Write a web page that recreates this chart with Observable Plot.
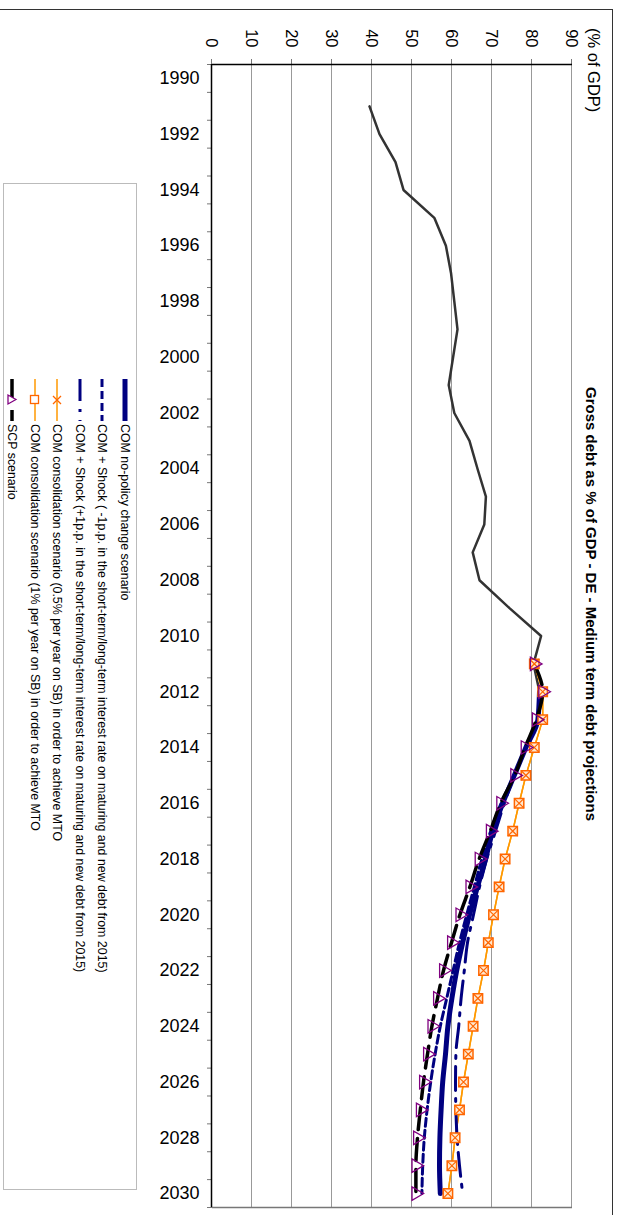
<!DOCTYPE html>
<html>
<head>
<meta charset="utf-8">
<script src="https://cdn.jsdelivr.net/npm/d3@7"></script>
<script src="https://cdn.jsdelivr.net/npm/@observablehq/plot@0.6"></script>
<style>
  html, body { margin: 0; padding: 0; background: #fff; overflow: hidden; width: 621px; height: 1215px; }
  #land { position: absolute; left: 0; top: 0; width: 1215px; height: 621px; transform-origin: 0 0; transform: translate(621px, 0) rotate(90deg); font-family: "Liberation Sans", Arial, sans-serif; }
  #outer { position: absolute; left: 9px; top: 8px; width: 1300px; height: 700px; border-left: 1.5px solid #333; border-top: 1.5px solid #333; }
  #title { position: absolute; left: 0; width: 1208px; top: 21px; font-weight: bold; font-size: 15px; color: #000; }
  #title span { position: absolute; left: 604px; transform: translateX(-50%); white-space: nowrap; }
  #unit { position: absolute; left: 28px; top: 18px; font-size: 16.5px; white-space: nowrap; }
  #chart { position: absolute; left: 0; top: 0; }
  #legend { position: absolute; left: 183px; top: 484px; width: 1007px; height: 134px; border: 1px solid #bbb; box-sizing: border-box; }
  .item { position: absolute; left: 195px; height: 20px; display: flex; align-items: center; font-size: 12.4px; white-space: nowrap; }
  .item svg { margin-right: 3px; }
</style>
</head>
<body>
<div id="land">
  <div id="outer"></div>
  <div id="chart"></div>
  <div id="title"><span>Gross debt as % of GDP - DE - Medium term debt projections</span></div>
  <div id="unit">(% of GDP)</div>
  <div id="legend"></div>
</div>
<script>
// ---- data ----
const histYears = [1991,1992,1993,1994,1995,1996,1997,1998,1999,2000,2001,2002,2003,2004,2005,2006,2007,2008,2009,2010,2011,2012];
const histValues = [39.5,42.0,46.0,48.0,55.7,58.6,59.9,60.7,61.5,60.4,59.3,60.7,64.5,66.5,68.6,68.2,65.3,67.0,74.5,82.4,80.5,82.0];

const comYears = [2012,2013,2014,2015,2016,2017,2018,2019,2020,2021,2022,2023,2024,2025,2026,2027,2028,2029,2030];
const noPolicy  = [82.0,81.6,78.6,75.7,72.8,70.3,68.5,66.5,64.5,62.8,61.3,60.1,59.1,58.5,57.8,57.4,57.1,57.0,57.2];
const shockDown = [82.0,81.6,78.6,75.7,72.4,69.8,67.6,65.7,63.8,62.0,60.4,58.8,57.2,55.9,54.8,53.9,53.2,52.8,52.6];
const shockUp   = [82.0,81.6,78.6,75.7,73.2,71.0,68.8,67.0,65.5,64.0,63.2,62.4,61.8,61.1,61.0,61.1,61.4,62.0,62.8];

const projYears = [2011,2012,2013,2014,2015,2016,2017,2018,2019,2020,2021,2022,2023,2024,2025,2026,2027,2028,2029,2030];
const cons05 = [80.7,82.8,82.8,80.7,78.6,76.9,75.3,73.4,71.9,70.5,69.2,68.0,66.6,65.4,64.2,63.0,62.0,60.9,60.1,59.1];
const cons1  = [80.7,82.8,82.8,80.7,78.6,76.9,75.3,73.4,71.9,70.5,69.2,68.0,66.6,65.4,64.2,63.0,62.0,60.9,60.1,59.1];
const scp    = [80.7,82.8,81.2,78.4,75.8,72.3,69.7,66.9,64.6,62.1,60.0,58.0,56.5,55.1,54.0,53.0,52.2,51.5,51.1,51.1];

const yearLabels = [1990,1992,1994,1996,1998,2000,2002,2004,2006,2008,2010,2012,2014,2016,2018,2020,2022,2024,2026,2028,2030];
const valueTicks = [0,10,20,30,40,50,60,70,80,90];

const legendLabels = [
  "COM no-policy change scenario",
  "COM + Shock ( -1p.p. in the short-term/long-term interest rate on maturing and new debt from 2015)",
  "COM + Shock (+1p.p. in the short-term/long-term interest rate on maturing and new debt from 2015)",
  "COM consolidation scenario (0.5% per year on SB) in order to achieve MTO",
  "COM consolidation scenario (1% per year on SB) in order to achieve MTO",
  "SCP scenario"
];

const zip = (xs, ys) => xs.map((x, i) => ({year: x, value: ys[i]}));
const hist = zip(histYears, histValues);
const dNo = zip(comYears, noPolicy);
const dDown = zip(comYears, shockDown);
const dUp = zip(comYears, shockUp);
const dC05 = zip(projYears, cons05);
const dC1 = zip(projYears, cons1);
const dScp = zip(projYears, scp);

const navy = "#000080", orangeLine = "#FF9900", orangeMark = "#FF6600", purple = "#800080";
const boundaries = d3.range(1989.5, 2031, 1);

const chart = Plot.plot({
  width: 1215,
  height: 621,
  marginLeft: 64,
  marginRight: 8,
  marginTop: 49,
  marginBottom: 212,
  style: {fontFamily: "Liberation Sans, Arial, sans-serif", background: "transparent", color: "#000"},
  x: {domain: [1989.5, 2030.5], label: null},
  y: {domain: [0, 90], label: null},
  marks: [
    Plot.gridY(valueTicks.filter(d => d > 0), {stroke: "#999", strokeOpacity: 1, strokeWidth: 1}),
    Plot.ruleX([2030.5], {stroke: "#777", strokeWidth: 1.5}),
    Plot.axisY(valueTicks, {label: null, tickSize: 5, tickPadding: 12, fontSize: 16.5, stroke: "#777", tickFormat: d => String(d)}),
    Plot.axisX(boundaries, {label: null, tickSize: 5, stroke: "#777", tickFormat: () => ""}),
    Plot.axisX(yearLabels, {label: null, tickSize: 0, tickPadding: 12, tickRotate: -90, fontSize: 18, tickFormat: d => String(d)}),
    Plot.line(hist, {x: "year", y: "value", stroke: "#333", strokeWidth: 2.5}),
    Plot.line(dC05, {x: "year", y: "value", stroke: orangeLine, strokeWidth: 1.5}),
    Plot.line(dC1, {x: "year", y: "value", stroke: orangeLine, strokeWidth: 1.5}),
    Plot.line(dUp, {x: "year", y: "value", stroke: navy, strokeWidth: 3, strokeDasharray: "24,8,3,8", curve: "monotone-x"}),
    Plot.line(dDown, {x: "year", y: "value", stroke: navy, strokeWidth: 3, strokeDasharray: "8,4", curve: "monotone-x"}),
    Plot.line(dNo, {x: "year", y: "value", stroke: navy, strokeWidth: 5, curve: "monotone-x"}),
    Plot.line(dScp, {x: "year", y: "value", stroke: "#000", strokeWidth: 3.5, strokeDasharray: "22,9", curve: "monotone-x"}),
    Plot.dot(dC1, {x: "year", y: "value", symbol: "square", r: 5.3, stroke: orangeMark, strokeWidth: 1.5, fill: "#FFE8D0"}),
    Plot.dot(dC05, {x: "year", y: "value", symbol: "times", r: 4.5, stroke: orangeMark, strokeWidth: 1.2}),
    Plot.dot(dScp, {x: "year", y: "value", symbol: "triangle", r: 5, stroke: purple, strokeWidth: 1.3, fill: "none"}),
    Plot.ruleY([0], {stroke: "#000", strokeWidth: 1.5}),
    Plot.ruleX([1989.5], {stroke: "#000", strokeWidth: 1.5})
  ]
});
document.getElementById("chart").appendChild(chart);

// ---- legend ----
const swatches = [
  `<line x1="0" y1="10" x2="42" y2="10" stroke="${navy}" stroke-width="5"/>`,
  `<line x1="0" y1="10" x2="42" y2="10" stroke="${navy}" stroke-width="3" stroke-dasharray="8,4"/>`,
  `<line x1="0" y1="10" x2="42" y2="10" stroke="${navy}" stroke-width="3" stroke-dasharray="22,8,3,8"/>`,
  `<line x1="0" y1="10" x2="42" y2="10" stroke="${orangeLine}" stroke-width="1.5"/><path d="M17,6L25,14M25,6L17,14" stroke="${orangeMark}" stroke-width="1.3"/>`,
  `<line x1="0" y1="10" x2="42" y2="10" stroke="${orangeLine}" stroke-width="1.5"/><rect x="16.5" y="6.5" width="8" height="8" fill="#fff" stroke="${orangeMark}" stroke-width="1.3"/>`,
  `<line x1="0" y1="10" x2="42" y2="10" stroke="#000" stroke-width="3.5" stroke-dasharray="22,9"/><path d="M20.5,6L25,14L16,14Z" fill="#fff" stroke="${purple}" stroke-width="1.3"/>`
];
const rowCenters = [495, 518, 540, 563, 585, 608];
const legend = document.getElementById("legend");
legendLabels.forEach((lab, i) => {
  const div = document.createElement("div");
  div.className = "item";
  div.style.top = (rowCenters[i] - 484 - 10) + "px";
  div.innerHTML = `<svg width="42" height="20">${swatches[i]}</svg><span>${lab}</span>`;
  legend.appendChild(div);
});
</script>
</body>
</html>
